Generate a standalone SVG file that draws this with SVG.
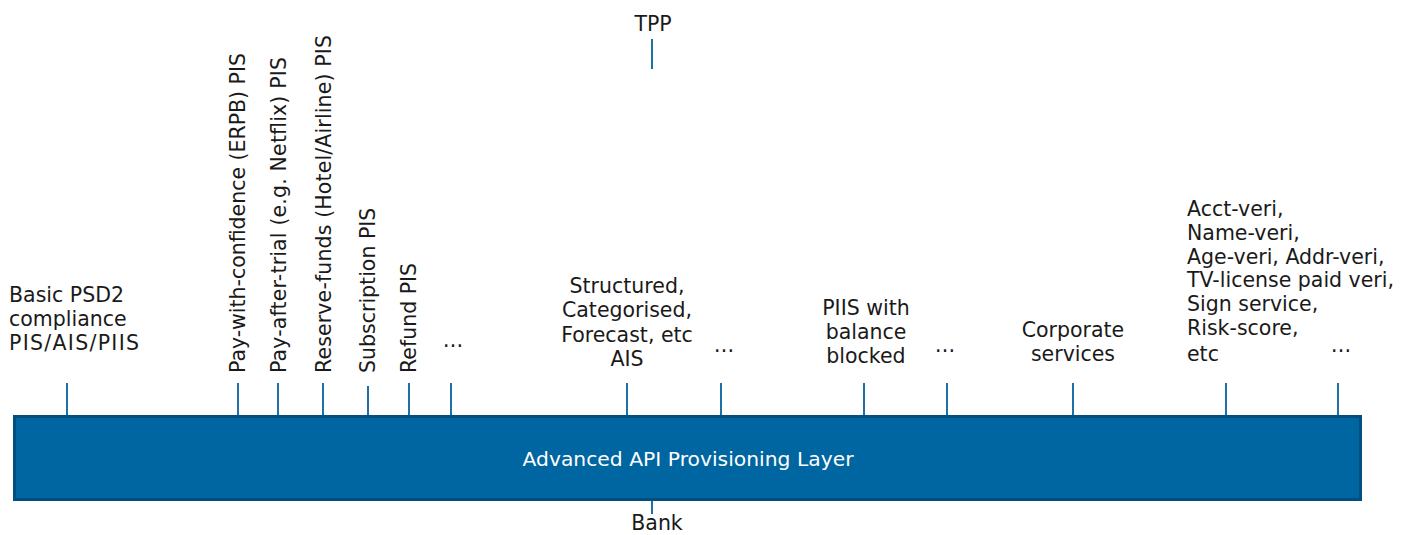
<svg xmlns="http://www.w3.org/2000/svg" width="1408" height="535" viewBox="0 0 1408 535">
  <style>
    text { font-family: "DejaVu Sans", Verdana, sans-serif; font-size: 20.5px; fill: #1a1a1a; }
    .c { text-anchor: middle; }
    .bar-label { fill: #ffffff; text-anchor: middle; font-size: 20px; }
    .tick { stroke: #1f6fa8; stroke-width: 2; fill: none; }
    .layer { fill: #0066a1; stroke: #004f7f; stroke-width: 3; }
  </style>
  <rect width="1408" height="535" fill="#ffffff"/>

  <!-- connectors: service ticks onto the layer, TPP and Bank leads -->
  <g id="connectors">
    <line class="tick" x1="652" y1="39" x2="652" y2="69"/>
    <line class="tick" x1="67" y1="383" x2="67" y2="416"/>
    <line class="tick" x1="238" y1="383" x2="238" y2="416"/>
    <line class="tick" x1="278" y1="383" x2="278" y2="416"/>
    <line class="tick" x1="323" y1="383" x2="323" y2="416"/>
    <line class="tick" x1="368" y1="386" x2="368" y2="416"/>
    <line class="tick" x1="409" y1="383" x2="409" y2="416"/>
    <line class="tick" x1="451" y1="383" x2="451" y2="416"/>
    <line class="tick" x1="627" y1="383" x2="627" y2="416"/>
    <line class="tick" x1="721" y1="383" x2="721" y2="416"/>
    <line class="tick" x1="864" y1="383" x2="864" y2="416"/>
    <line class="tick" x1="947" y1="383" x2="947" y2="416"/>
    <line class="tick" x1="1073" y1="383" x2="1073" y2="416"/>
    <line class="tick" x1="1226" y1="383" x2="1226" y2="416"/>
    <line class="tick" x1="1338" y1="383" x2="1338" y2="416"/>
    <line class="tick" x1="652" y1="500" x2="652" y2="514"/>
  </g>

  <g id="layer">
    <rect class="layer" x="14.5" y="416.5" width="1346" height="83"/>
    <text class="bar-label" x="688" y="466" textLength="331" lengthAdjust="spacingAndGlyphs">Advanced API Provisioning Layer</text>
  </g>

  <g id="tpp"><text class="c" x="653" y="31">TPP</text></g>
  <g id="bank"><text class="c" x="657" y="530">Bank</text></g>

  <g id="basic-psd2">
    <text x="9" y="302">Basic PSD2</text>
    <text x="9" y="326">compliance</text>
    <text x="9" y="350" textLength="130">PIS/AIS/PIIS</text>
  </g>

  <g id="pay-with-confidence"><text transform="translate(245,373) rotate(-90)" textLength="320">Pay-with-confidence (ERPB) PIS</text></g>
  <g id="pay-after-trial"><text transform="translate(286,373) rotate(-90)" textLength="316">Pay-after-trial (e.g. Netflix) PIS</text></g>
  <g id="reserve-funds"><text transform="translate(331,373) rotate(-90)" textLength="338">Reserve-funds (Hotel/Airline) PIS</text></g>
  <g id="subscription"><text transform="translate(375,373) rotate(-90)">Subscription PIS</text></g>
  <g id="refund"><text transform="translate(416,373) rotate(-90)">Refund PIS</text></g>
  <g id="more-pis"><text class="c" x="453" y="347">…</text></g>

  <g id="ais">
    <text class="c" x="627" y="293">Structured,</text>
    <text class="c" x="627" y="317">Categorised,</text>
    <text class="c" x="627" y="342">Forecast, etc</text>
    <text class="c" x="627" y="366">AIS</text>
  </g>
  <g id="more-ais"><text class="c" x="724" y="352">…</text></g>

  <g id="piis">
    <text class="c" x="866" y="315">PIIS with</text>
    <text class="c" x="866" y="339">balance</text>
    <text class="c" x="866" y="363">blocked</text>
  </g>
  <g id="more-piis"><text class="c" x="945" y="352">…</text></g>

  <g id="corporate">
    <text class="c" x="1073" y="337">Corporate</text>
    <text class="c" x="1073" y="361">services</text>
  </g>

  <g id="verification">
    <text x="1187" y="216">Acct-veri,</text>
    <text x="1187" y="240">Name-veri,</text>
    <text x="1187" y="264">Age-veri, Addr-veri,</text>
    <text x="1187" y="287">TV-license paid veri,</text>
    <text x="1187" y="311">Sign service,</text>
    <text x="1187" y="335">Risk-score,</text>
    <text x="1187" y="361">etc</text>
  </g>
  <g id="more-services"><text class="c" x="1341" y="352">…</text></g>
</svg>
